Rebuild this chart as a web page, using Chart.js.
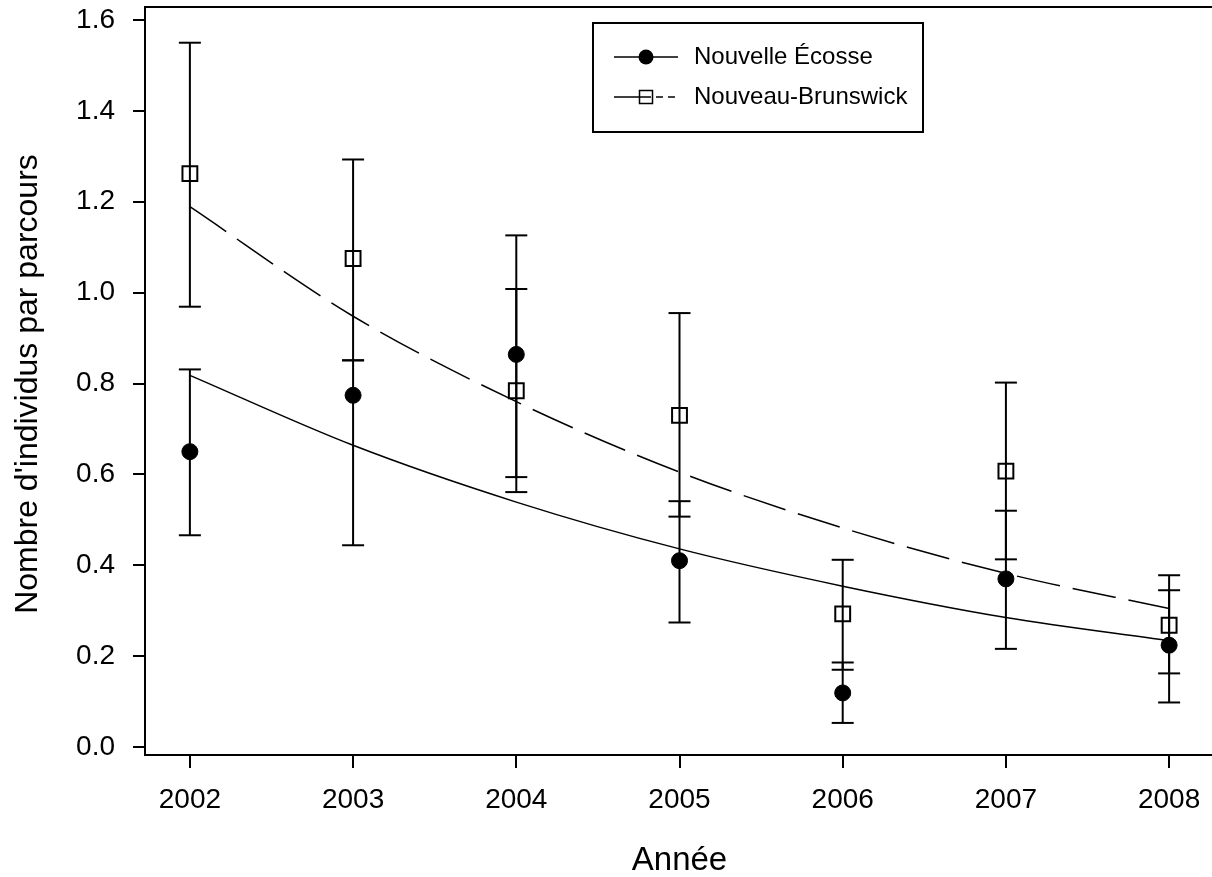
<!DOCTYPE html>
<html>
<head>
<meta charset="utf-8">
<script src="https://cdn.jsdelivr.net/npm/chart.js@4.4.0/dist/chart.umd.min.js"></script>
<style>
html,body{margin:0;padding:0;background:#fff;overflow:hidden;width:1212px;height:877px}
#wrap{position:relative;width:1227px;height:877px}
</style>
</head>
<body>
<div id="wrap"><canvas id="c" width="1227" height="877"></canvas></div>
<script>
// ---- data ----
const years = [2002, 2003, 2004, 2005, 2006, 2007, 2008];
const yTicks = [0, 0.2, 0.4, 0.6, 0.8, 1.0, 1.2, 1.4, 1.6];
const seriesNames = ['Nouvelle Écosse', 'Nouveau-Brunswick'];
const xTitle = 'Année';
const yTitle = "Nombre d'individus par parcours";

const nsMean  = [0.650, 0.774, 0.864, 0.410, 0.119, 0.370, 0.224];
const nsUpper = [0.831, 0.851, 1.126, 0.541, 0.186, 0.520, 0.345];
const nsLower = [0.466, 0.444, 0.594, 0.274, 0.053, 0.216, 0.098];
const nsTrend = [0.818, 0.664, 0.539, 0.436, 0.354, 0.285, 0.234];

const nbMean  = [1.262, 1.075, 0.784, 0.730, 0.293, 0.607, 0.268];
const nbUpper = [1.550, 1.293, 1.008, 0.955, 0.412, 0.802, 0.378];
const nbLower = [0.969, 0.851, 0.561, 0.507, 0.170, 0.413, 0.162];
const nbTrend = [1.189, 0.948, 0.760, 0.605, 0.482, 0.382, 0.305];

const frameTopValue = 1.6286;

// ---- helpers ----
const pts = arr => years.map((x, i) => ({x, y: arr[i]}));
function errData(lo, hi) {
  const d = [];
  years.forEach((x, i) => { d.push({x, y: lo[i]}, {x, y: hi[i]}, {x, y: null}); });
  return d;
}

Chart.defaults.font.family = "'Liberation Sans', Arial, sans-serif";
Chart.defaults.color = '#000';

const frameAndLegend = {
  id: 'frameAndLegend',
  afterDraw(chart) {
    const ctx = chart.ctx;
    const a = chart.chartArea;
    const ys = chart.scales.y;
    const topY = ys.getPixelForValue(frameTopValue);
    ctx.save();
    ctx.strokeStyle = '#000';
    ctx.lineWidth = 2;
    // frame: top border and the left axis extension up to it
    ctx.beginPath();
    ctx.moveTo(a.left, a.top + 1);
    ctx.lineTo(a.left, topY);
    ctx.lineTo(a.right, topY);
    ctx.stroke();

    // legend box
    const bx = a.left + 448, by = topY + 16, bw = 330, bh = 109;
    ctx.lineWidth = 2;
    ctx.strokeRect(bx, by, bw, bh);
    const lx0 = bx + 21, lx1 = bx + 85, mx = bx + 53;
    const r1 = by + 34, r2 = by + 74;
    // row 1
    ctx.lineWidth = 1.5;
    ctx.beginPath(); ctx.moveTo(lx0, r1); ctx.lineTo(lx1, r1); ctx.stroke();
    ctx.fillStyle = '#000';
    ctx.beginPath(); ctx.arc(mx, r1, 7.5, 0, Math.PI * 2); ctx.fill();
    // row 2
    ctx.beginPath(); ctx.moveTo(lx0, r2); ctx.lineTo(mx + 5, r2); ctx.stroke();
    ctx.beginPath(); ctx.moveTo(mx + 10, r2); ctx.lineTo(mx + 17, r2); ctx.stroke();
    ctx.beginPath(); ctx.moveTo(mx + 22, r2); ctx.lineTo(mx + 29, r2); ctx.stroke();
    ctx.lineWidth = 1.5;
    ctx.strokeRect(mx - 6.5, r2 - 6.5, 13, 13);
    // text
    ctx.font = "24px 'Liberation Sans', Arial, sans-serif";
    ctx.textBaseline = 'middle';
    ctx.textAlign = 'left';
    ctx.fillText(seriesNames[0], bx + 101, r1);
    ctx.fillText(seriesNames[1], bx + 101, r2);
    ctx.restore();
  }
};

new Chart(document.getElementById('c'), {
  type: 'scatter',
  data: {
    datasets: [
      { label: seriesNames[0], data: pts(nsMean), showLine: false, order: 0,
        pointStyle: 'circle', pointRadius: 8, pointBackgroundColor: '#000',
        pointBorderColor: '#000', pointBorderWidth: 1 },
      { label: seriesNames[1], data: pts(nbMean), showLine: false, order: 1,
        pointStyle: 'rect', pointRadius: 10.5, pointBackgroundColor: 'rgba(0,0,0,0)',
        pointBorderColor: '#000', pointBorderWidth: 2 },
      { label: 'err NS', data: errData(nsLower, nsUpper), showLine: true, spanGaps: false, order: 2,
        borderColor: '#000', borderWidth: 2, pointStyle: 'line', pointRadius: 11,
        pointBorderColor: '#000', pointBorderWidth: 2 },
      { label: 'err NB', data: errData(nbLower, nbUpper), showLine: true, spanGaps: false, order: 2,
        borderColor: '#000', borderWidth: 2, pointStyle: 'line', pointRadius: 11,
        pointBorderColor: '#000', pointBorderWidth: 2 },
      { label: 'trend NS', data: pts(nsTrend), showLine: true, order: 3, pointRadius: 0,
        borderColor: '#000', borderWidth: 1.5, cubicInterpolationMode: 'monotone' },
      { label: 'trend NB', data: pts(nbTrend), showLine: true, order: 3, pointRadius: 0,
        borderColor: '#000', borderWidth: 1.5, borderDash: [44, 13], cubicInterpolationMode: 'monotone' }
    ]
  },
  options: {
    responsive: false,
    animation: false,
    events: [],
    layout: { padding: { top: 1, right: 0, bottom: 0, left: 0 } },
    plugins: { legend: { display: false }, tooltip: { enabled: false } },
    scales: {
      x: {
        type: 'linear', min: 2001.725, max: 2008.275,
        afterBuildTicks: s => { s.ticks = years.map(v => ({value: v})); },
        ticks: { callback: v => String(v), font: { size: 28 }, color: '#000', padding: 15,
                 maxRotation: 0, autoSkip: false },
        grid: { drawOnChartArea: false, drawTicks: true, tickLength: 13, color: '#000', lineWidth: 2 },
        border: { display: true, color: '#000', width: 2 },
        title: { display: true, text: xTitle, color: '#000', font: { size: 33, lineHeight: 1 }, padding: 0 },
        afterFit: s => { s.height = 122; s.paddingLeft = 0; s.paddingRight = 0; }
      },
      y: {
        type: 'linear', min: -0.0176, max: 1.6154,
        afterBuildTicks: s => { s.ticks = yTicks.map(v => ({value: v})); },
        ticks: { callback: v => Number(v).toFixed(1), font: { size: 28 }, color: '#000', padding: 18 },
        grid: { drawOnChartArea: false, drawTicks: true, tickLength: 12, color: '#000', lineWidth: 2 },
        border: { display: true, color: '#000', width: 2 },
        title: { display: true, text: yTitle, color: '#000', font: { size: 32, lineHeight: 1 },
                 padding: { top: 12, bottom: 0 } },
        afterFit: s => { s.width = 145; s.paddingTop = 0; s.paddingBottom = 0; }
      }
    }
  },
  plugins: [frameAndLegend]
});
</script>
</body>
</html>
